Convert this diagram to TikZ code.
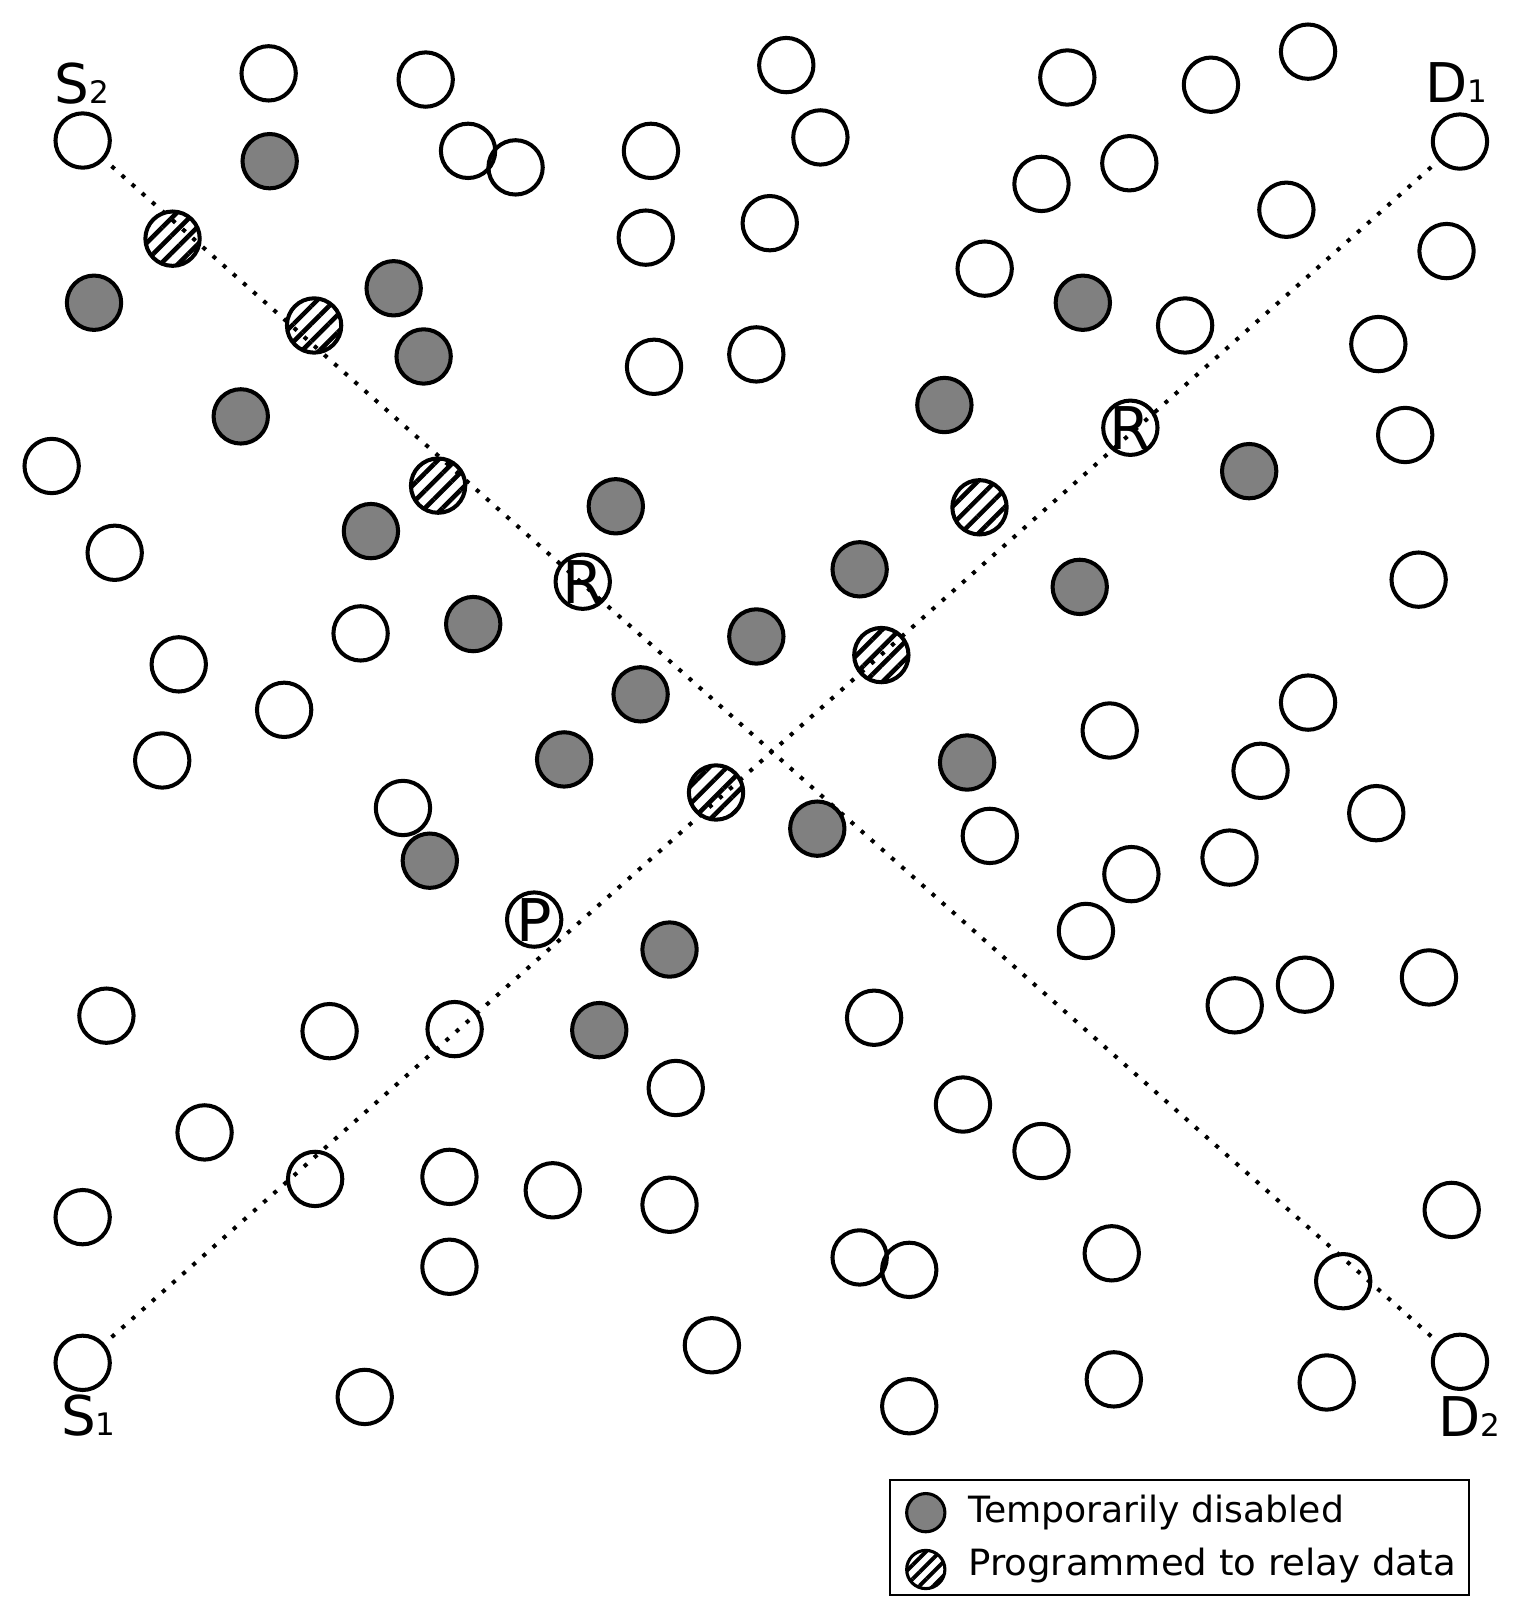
\documentclass[tikz,border=0pt]{standalone}
\usepackage{fontspec}
\setmainfont{DejaVu Sans}
\usetikzlibrary{patterns.meta}
\definecolor{nodegray}{RGB}{128,128,128}
\tikzset{
  sn/.style={circle, draw=black, line width=3.9pt, minimum size=52.6pt, inner sep=0pt},
  whiten/.style={sn},
  grayn/.style={sn, fill=nodegray},
  hatchn/.style={sn, fill=white, pattern={Lines[angle=45,distance=12pt,line width=4.4pt]}},
  lettern/.style={sn, fill=white, label={[font=\fontsize{57}{57}\selectfont, inner sep=0pt]center:#1}},
  dotline/.style={line width=3.9pt, dash pattern=on 3.9pt off 9.2pt, dash phase=3.9pt},
  endlbl/.style={font=\fontsize{53}{53}\selectfont, inner sep=0pt, anchor=base west},
  legtext/.style={font=\fontsize{35}{35}\selectfont, inner sep=0pt, anchor=base west},
}
\newcommand{\subs}[1]{\fontsize{30}{30}\selectfont #1}
\begin{document}
\begin{tikzpicture}[x=1pt,y=-1pt]
\useasboundingbox (0,0) rectangle (1470,1565);
% ordinary nodes
\foreach \x/\y [count=\i] in {260/71, 412/77, 761/63, 1033/75, 1172/82, 1266/50, 453/146, 499/162,
  630/146, 794/133, 1008/178, 1093/158, 1245/203, 1400/243, 625/230, 745/216, 953/260, 633/355,
  732/343, 1147/315, 1334/333, 1360/421, 50/451, 111/535, 1373/561, 349/613, 173/643, 275/687,
  1266/680, 1074/707, 157/736, 1220/746, 390/782, 1332/787, 958/809, 1190/830, 1095/846, 1051/901,
  1383/946, 1263/953, 1195/973, 103/983, 319/998, 440/996, 846/985, 654/1053, 932/1069, 198/1096,
  1008/1114, 305/1141, 435/1139, 535/1152, 648/1166, 80/1178, 1405/1171, 1076/1213, 832/1217,
  880/1229, 435/1226, 1300/1240, 689/1302, 1078/1335, 1284/1338, 353/1352, 880/1361}
  \node[whiten] (w\i) at (\x,\y) {};
% disabled nodes
\foreach \x/\y [count=\i] in {261/156, 91/293, 381/279, 410/345, 233/403, 914/392, 1048/293,
  596/490, 1209/456, 359/514, 832/551, 1045/568, 458/604, 732/616, 620/672, 546/735, 936/738,
  791/802, 416/833, 648/919, 580/997}
  \node[grayn] (g\i) at (\x,\y) {};
% relay nodes
\foreach \x/\y [count=\i] in {167/231, 304/315, 424/470, 948/491, 853/634, 693/767}
  \node[hatchn] (h\i) at (\x,\y) {};
% sources and destinations
\node[whiten] (S2) at (80,136) {};
\node[whiten] (D1) at (1413,137) {};
\node[whiten] (S1) at (80,1319) {};
\node[whiten] (D2) at (1413,1318) {};
% lettered nodes
\node[lettern=R] (R1) at (564,563) {};
\node[lettern=R] (R2) at (1094,414) {};
\node[lettern=P] (P1) at (517,890) {};
% routes
\draw[dotline] (S2) -- (D2);
\draw[dotline] (S1) -- (D1);
% labels
\node[endlbl] (S2l) at (53,100) {S\subs{2}};
\node[endlbl] (D1l) at (1379,99) {D\subs{1}};
\node[endlbl] (S1l) at (59,1389.5) {S\subs{1}};
\node[endlbl] (D2l) at (1391.6,1390.5) {D\subs{2}};
% legend
\node[draw, line width=2pt, minimum width=561pt, minimum height=112pt, inner sep=0pt, anchor=north west] (legend) at (860,1431) {};
\node[grayn, minimum size=37pt, line width=3pt] (lg1) at (896,1464) {};
\node[sn, fill=white, minimum size=37pt, line width=3pt, pattern={Lines[angle=45,distance=9.5pt,line width=3.8pt]}] (lg2) at (896,1519) {};
\node[legtext] (lt1) at (937,1474) {Temporarily disabled};
\node[legtext] (lt2) at (937,1525) {\scalebox{1.026}[1]{Programmed to relay data}};
\end{tikzpicture}
\end{document}
